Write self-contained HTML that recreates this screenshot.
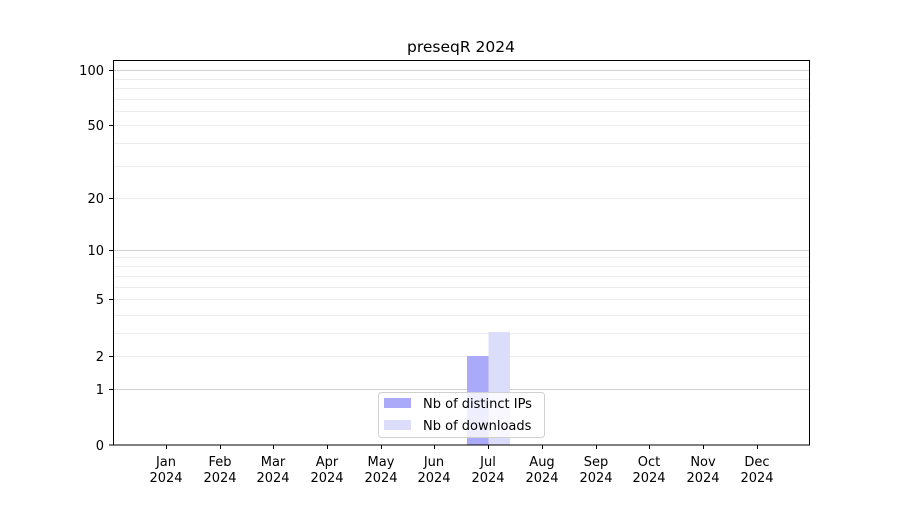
<!DOCTYPE html>
<html><head><meta charset="utf-8"><style>
body{margin:0;background:#fff;}
svg text{font-family:"DejaVu Sans","Liberation Sans",sans-serif;font-size:13px;fill:#000;}
</style></head><body>
<svg width="900" height="500" viewBox="0 0 900 500" xmlns="http://www.w3.org/2000/svg">
<rect width="900" height="500" fill="#fff"/>
<g stroke="#ececec" stroke-width="1">
<line x1="113" x2="810" y1="333.5" y2="333.5"/>
<line x1="113" x2="810" y1="315.5" y2="315.5"/>
<line x1="113" x2="810" y1="287.5" y2="287.5"/>
<line x1="113" x2="810" y1="276.5" y2="276.5"/>
<line x1="113" x2="810" y1="266.5" y2="266.5"/>
<line x1="113" x2="810" y1="257.5" y2="257.5"/>
<line x1="113" x2="810" y1="166.5" y2="166.5"/>
<line x1="113" x2="810" y1="143.5" y2="143.5"/>
<line x1="113" x2="810" y1="111.5" y2="111.5"/>
<line x1="113" x2="810" y1="99.5" y2="99.5"/>
<line x1="113" x2="810" y1="88.5" y2="88.5"/>
<line x1="113" x2="810" y1="79.5" y2="79.5"/>
<line x1="113" x2="810" y1="356.5" y2="356.5"/>
<line x1="113" x2="810" y1="299.5" y2="299.5"/>
<line x1="113" x2="810" y1="198.5" y2="198.5"/>
<line x1="113" x2="810" y1="125.5" y2="125.5"/>
</g>
<g stroke="#d0d0d0" stroke-width="1">
<line x1="113" x2="810" y1="389.5" y2="389.5"/>
<line x1="113" x2="810" y1="250.5" y2="250.5"/>
<line x1="113" x2="810" y1="70.5" y2="70.5"/>
</g>
<rect x="467" y="356" width="21.5" height="89" fill="#aaaaf8"/>
<rect x="488.5" y="332" width="21.5" height="113" fill="#dcdcfb"/>
<rect x="113.5" y="60.5" width="696" height="384.5" fill="none" stroke="#000" stroke-width="1"/>
<g stroke="#000" stroke-width="1">
<line x1="109" x2="113" y1="445" y2="445"/>
<line x1="109" x2="113" y1="389.5" y2="389.5"/>
<line x1="109" x2="113" y1="356.5" y2="356.5"/>
<line x1="109" x2="113" y1="299.5" y2="299.5"/>
<line x1="109" x2="113" y1="250.5" y2="250.5"/>
<line x1="109" x2="113" y1="198.5" y2="198.5"/>
<line x1="109" x2="113" y1="125.5" y2="125.5"/>
<line x1="109" x2="113" y1="70.5" y2="70.5"/>
</g>
<g text-anchor="end">
<text x="104" y="450">0</text>
<text x="104" y="394">1</text>
<text x="104" y="361">2</text>
<text x="104" y="304">5</text>
<text x="104" y="255">10</text>
<text x="104" y="203">20</text>
<text x="104" y="130">50</text>
<text x="104" y="75">100</text>
</g>
<g stroke="#000" stroke-width="1">
<line x1="166.5" x2="166.5" y1="445" y2="449"/>
<line x1="220.5" x2="220.5" y1="445" y2="449"/>
<line x1="273.5" x2="273.5" y1="445" y2="449"/>
<line x1="327.5" x2="327.5" y1="445" y2="449"/>
<line x1="381.5" x2="381.5" y1="445" y2="449"/>
<line x1="434.5" x2="434.5" y1="445" y2="449"/>
<line x1="488.5" x2="488.5" y1="445" y2="449"/>
<line x1="542.5" x2="542.5" y1="445" y2="449"/>
<line x1="596.5" x2="596.5" y1="445" y2="449"/>
<line x1="649.5" x2="649.5" y1="445" y2="449"/>
<line x1="703.5" x2="703.5" y1="445" y2="449"/>
<line x1="757.5" x2="757.5" y1="445" y2="449"/>
</g>
<g text-anchor="middle">
<text x="166" y="466">Jan</text><text x="166" y="482">2024</text>
<text x="220" y="466">Feb</text><text x="220" y="482">2024</text>
<text x="273" y="466">Mar</text><text x="273" y="482">2024</text>
<text x="327" y="466">Apr</text><text x="327" y="482">2024</text>
<text x="381" y="466">May</text><text x="381" y="482">2024</text>
<text x="434" y="466">Jun</text><text x="434" y="482">2024</text>
<text x="488" y="466">Jul</text><text x="488" y="482">2024</text>
<text x="542" y="466">Aug</text><text x="542" y="482">2024</text>
<text x="596" y="466">Sep</text><text x="596" y="482">2024</text>
<text x="649" y="466">Oct</text><text x="649" y="482">2024</text>
<text x="703" y="466">Nov</text><text x="703" y="482">2024</text>
<text x="757" y="466">Dec</text><text x="757" y="482">2024</text>
<text x="461" y="52" style="font-size:15.5px">preseqR 2024</text>
</g>
<rect x="378.5" y="392.5" width="166" height="45" rx="3" fill="#fff" fill-opacity="0.8" stroke="#d0d0d0"/>
<rect x="384" y="398" width="27" height="10" fill="#aaaaf8"/>
<rect x="384" y="420" width="27" height="10" fill="#dcdcfb"/>
<text x="423" y="408">Nb of distinct IPs</text>
<text x="423" y="430">Nb of downloads</text>
</svg>
</body></html>
